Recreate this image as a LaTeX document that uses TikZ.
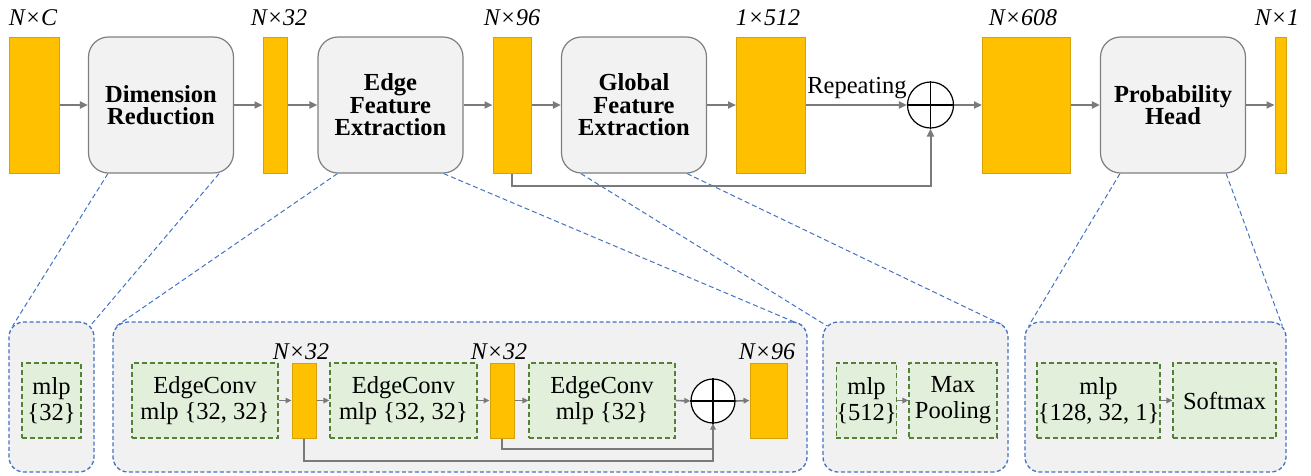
\documentclass[tikz,border=0pt]{standalone}
\usepackage{fontspec}
\setmainfont{Liberation Serif}
\usetikzlibrary{arrows.meta,calc}
\definecolor{orfill}{HTML}{FFC000}
\definecolor{oredge}{HTML}{D4A106}
\definecolor{gfill}{HTML}{F2F2F2}
\definecolor{gedge}{HTML}{7F7F7F}
\definecolor{pfill}{HTML}{F1F1F1}
\definecolor{pblue}{HTML}{4472C4}
\definecolor{grfill}{HTML}{E2EFDA}
\definecolor{gredge}{HTML}{548235}
\definecolor{arrgray}{HTML}{7A7A7A}
\pgfdeclarelayer{background}
\pgfsetlayers{background,main}
\begin{document}
\begin{tikzpicture}[x=1pt,y=-1pt,
  orb/.style={draw=oredge, fill=orfill, line width=1pt, minimum height=136pt, inner sep=0pt},
  orbs/.style={orb, minimum height=75pt},
  gbox/.style={draw=gedge, fill=gfill, line width=1.2pt, rounded corners=20pt, minimum width=145pt, minimum height=136pt, align=center, font=\fontsize{24.5}{22.5}\selectfont\bfseries, inner sep=0pt},
  dimlab/.style={font=\fontsize{24}{24}\selectfont\itshape, anchor=base, inner sep=0pt},
  panel/.style={draw=pblue, fill=pfill, line width=1.3pt, dash pattern=on 4pt off 2.5pt, rounded corners=15pt, minimum height=150pt, inner sep=0pt},
  gr/.style={draw=gredge, fill=grfill, line width=1.2pt, dash pattern=on 5pt off 3pt, minimum height=75pt, inner sep=0pt, align=center, font=\fontsize{24.5}{26}\selectfont},
  arr/.style={draw=arrgray, line width=2pt, -{Triangle[length=8pt,width=7pt]}},
  arrs/.style={draw=arrgray, line width=1.6pt, -{Triangle[length=6pt,width=5.5pt]}},
  lns/.style={draw=arrgray, line width=1.6pt},
  conn/.style={draw=pblue, line width=1pt, dash pattern=on 5pt off 3pt},
  oplus/.style={circle, draw=black, fill=white, line width=1.2pt, inner sep=0pt},
  cross/.style={draw=black, line width=1.2pt}
]
\useasboundingbox (0,0) rectangle (1311,475);

% ---------- top row ----------
\node[orb, minimum width=50pt] (b0) at (34,105) {};
\node[gbox] (DR) at (161,105) {Dimension\\Reduction};
\node[orb, minimum width=24pt] (b1) at (275,105) {};
\node[gbox] (EFE) at (390.5,105) {Edge\\Feature\\Extraction};
\node[orb, minimum width=38pt] (b2) at (512,105) {};
\node[gbox] (GFE) at (634,105) {Global\\Feature\\Extraction};
\node[orb, minimum width=69pt] (b3) at (771,105) {};
\node[oplus, minimum size=46pt] (op) at (930.5,105) {};
\node[orb, minimum width=88pt] (b4) at (1026.5,105) {};
\node[gbox] (PH) at (1173,105) {Probability\\Head};
\node[orb, minimum width=11pt] (b5) at (1280.5,105) {};

\node[dimlab] (l0) at (33,25) {N×C};
\node[dimlab] (l1) at (279,25) {N×32};
\node[dimlab] (l2) at (512,25) {N×96};
\node[dimlab] (l3) at (768,25) {1×512};
\node[dimlab] (l4) at (1023,25) {N×608};
\node[dimlab] (l5) at (1277,25) {N×1};

\draw[cross] (op.north) -- (op.south) (op.west) -- (op.east);

\draw[arr] (b0.east) -- (DR.west);
\draw[arr] (DR.east) -- (b1.west);
\draw[arr] (b1.east) -- (EFE.west);
\draw[arr] (EFE.east) -- (b2.west);
\draw[arr] (b2.east) -- (GFE.west);
\draw[arr] (GFE.east) -- (b3.west);
\draw[arr] (b3.east) -- (op.west);
\draw[arr] (op.east) -- (b4.west);
\draw[arr] (b4.east) -- (PH.west);
\draw[arr] (PH.east) -- (b5.west);
\draw[arr] (b2.south) -- ++(0,12) -| (op.south);
\node[font=\fontsize{24.5}{24}\selectfont, anchor=base, inner sep=0pt] (rep) at (857,93) {Repeating};

% ---------- bottom panels ----------
\node[panel, minimum width=85pt] (P1) at (51.5,397) {};
\node[panel, minimum width=694pt] (P2) at (460,397) {};
\node[panel, minimum width=185pt] (P3) at (915.5,397) {};
\node[panel, minimum width=261pt] (P4) at (1155.5,397) {};

% panel 1
\node[gr, minimum width=59pt] (m1) at (51.5,400.5) {mlp\\\{32\}};

% panel 2
\node[gr, minimum width=146pt] (ec1) at (205,400.5) {EdgeConv\\mlp \{32, 32\}};
\node[orbs, minimum width=24pt] (s1) at (304,400.5) {};
\node[gr, minimum width=147pt] (ec2) at (403.5,400.5) {EdgeConv\\mlp \{32, 32\}};
\node[orbs, minimum width=24pt] (s2) at (502,400.5) {};
\node[gr, minimum width=146pt] (ec3) at (602,400.5) {EdgeConv\\mlp \{32\}};
\node[oplus, minimum size=44pt] (ob) at (713,401) {};
\node[orbs, minimum width=37pt] (s3) at (768.5,400.5) {};
\draw[cross] (ob.north) -- (ob.south) (ob.west) -- (ob.east);

\node[dimlab] (ls1) at (301,359) {N×32};
\node[dimlab] (ls2) at (499,359) {N×32};
\node[dimlab] (ls3) at (767,359) {N×96};

\draw[arrs] (ec1.east) -- (s1.west);
\draw[arrs] (s1.east) -- (ec2.west);
\draw[arrs] (ec2.east) -- (s2.west);
\draw[arrs] (s2.east) -- (ec3.west);
\draw[arrs] (ec3.east) -- (ob.west);
\draw[arrs] (ob.east) -- (s3.west);
\draw[lns] (s2.south) -- ++(0,10.5) -| (ob.south);
\draw[arrs] (s1.south) -- ++(0,22.5) -| (ob.south);

% panel 3
\node[gr, minimum width=59pt] (m2) at (866.5,400.5) {mlp\\\{512\}};
\node[gr, minimum width=88pt] (mp) at (953,400.5) {Max\\Pooling};
\draw[arrs] (m2.east) -- (mp.west);

% panel 4
\node[gr, minimum width=123pt] (m3) at (1098.5,400.5) {mlp\\\{128, 32, 1\}};
\node[gr, minimum width=103pt] (sm) at (1224.5,400.5) {Softmax};
\draw[arrs] (m3.east) -- (sm.west);

% ---------- zoom connectors ----------
\begin{pgfonlayer}{background}
\draw[conn] ([xshift=20pt]DR.south west) -- ([xshift=4.4pt,yshift=-4.4pt]P1.north west);
\draw[conn] ([xshift=-15pt]DR.south east) -- ([xshift=-4.4pt,yshift=-4.4pt]P1.north east);
\draw[conn] ([xshift=20pt]EFE.south west) -- ([xshift=4.4pt,yshift=-4.4pt]P2.north west);
\draw[conn] ([xshift=-20pt]EFE.south east) -- ([xshift=-4.4pt,yshift=-4.4pt]P2.north east);
\draw[conn] ([xshift=20pt]GFE.south west) -- ([xshift=4.4pt,yshift=-4.4pt]P3.north west);
\draw[conn] ([xshift=-20pt]GFE.south east) -- ([xshift=-4.4pt,yshift=-4.4pt]P3.north east);
\draw[conn] ([xshift=20pt]PH.south west) -- ([xshift=4.4pt,yshift=-4.4pt]P4.north west);
\draw[conn] ([xshift=-20pt]PH.south east) -- ([xshift=-4.4pt,yshift=-4.4pt]P4.north east);
\end{pgfonlayer}
\end{tikzpicture}
\end{document}
